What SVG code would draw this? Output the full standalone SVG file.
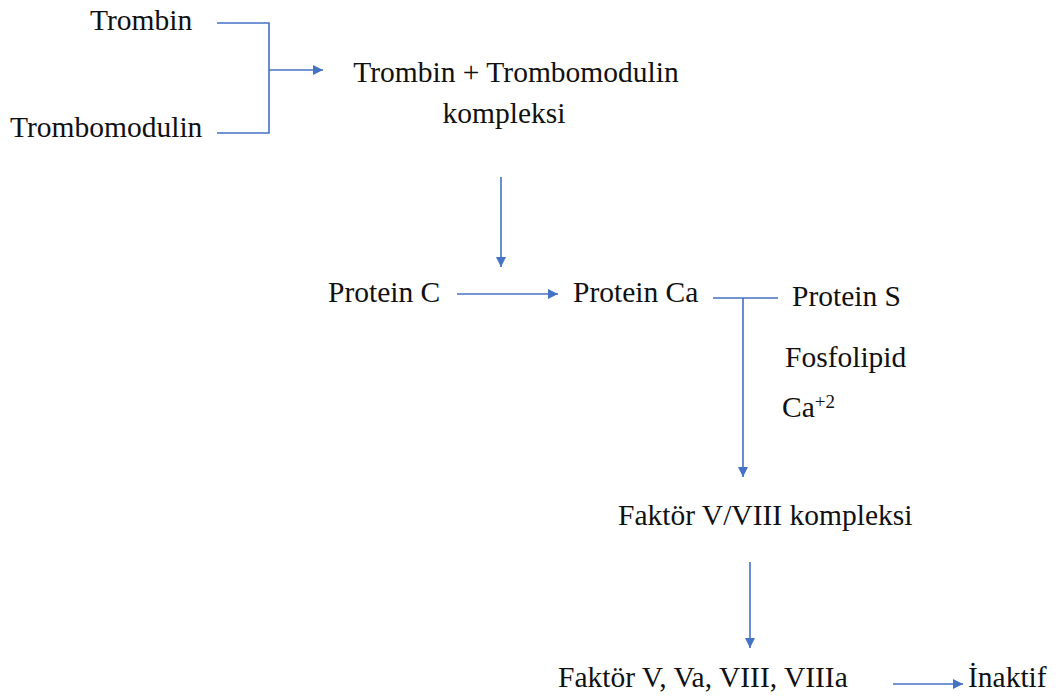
<svg xmlns="http://www.w3.org/2000/svg" width="1064" height="699" viewBox="0 0 1064 699">
<defs>
<marker id="ah" viewBox="0 0 10 10" refX="10" refY="5" markerWidth="10" markerHeight="10" markerUnits="userSpaceOnUse" orient="auto">
<path d="M0,0 L10,5 L0,10 Z" fill="#4472C4"/>
</marker>
</defs>
<rect width="1064" height="699" fill="#fff"/>
<g id="connectors" fill="none" stroke="#4472C4" stroke-width="1.6">
<path d="M217,23 H269 V133 H217"/>
<path d="M269,70 H323" marker-end="url(#ah)"/>
<path d="M501,177 V267" marker-end="url(#ah)"/>
<path d="M457,294 H558" marker-end="url(#ah)"/>
<path d="M713,298 H778 M743,298 V477" marker-end="url(#ah)"/>
<path d="M750,562 V648" marker-end="url(#ah)"/>
<path d="M893,684 H963" marker-end="url(#ah)"/>
</g>
<g id="trombin"><text style="font-family:'Liberation Serif','Times New Roman',serif;font-size:29.5px;fill:#111" x="90" y="30">Trombin</text></g>
<g id="trombomodulin"><text style="font-family:'Liberation Serif','Times New Roman',serif;font-size:29.5px;fill:#111" x="10" y="137">Trombomodulin</text></g>
<g id="kompleks1"><text style="font-family:'Liberation Serif','Times New Roman',serif;font-size:29.5px;fill:#111" x="516" y="82" text-anchor="middle">Trombin + Trombomodulin</text><text style="font-family:'Liberation Serif','Times New Roman',serif;font-size:29.5px;fill:#111" x="504" y="123" text-anchor="middle">kompleksi</text></g>
<g id="proteinC"><text style="font-family:'Liberation Serif','Times New Roman',serif;font-size:29.5px;fill:#111" x="328" y="302">Protein C</text></g>
<g id="proteinCa"><text style="font-family:'Liberation Serif','Times New Roman',serif;font-size:29.5px;fill:#111" x="573" y="302">Protein Ca</text></g>
<g id="proteinS"><text style="font-family:'Liberation Serif','Times New Roman',serif;font-size:29.5px;fill:#111" x="792" y="306">Protein S</text></g>
<g id="fosfolipid"><text style="font-family:'Liberation Serif','Times New Roman',serif;font-size:29.5px;fill:#111" x="785" y="367">Fosfolipid</text></g>
<g id="ca2"><text style="font-family:'Liberation Serif','Times New Roman',serif;font-size:29.5px;fill:#111" x="782" y="417">Ca<tspan style="font-size:19px" dy="-9">+2</tspan></text></g>
<g id="faktorKompleks"><text style="font-family:'Liberation Serif','Times New Roman',serif;font-size:29.5px;fill:#111" x="618" y="525">Faktör V/VIII kompleksi</text></g>
<g id="faktorler"><text style="font-family:'Liberation Serif','Times New Roman',serif;font-size:29.5px;fill:#111" x="558" y="687">Faktör V, Va, VIII, VIIIa</text></g>
<g id="inaktif"><text style="font-family:'Liberation Serif','Times New Roman',serif;font-size:29.5px;fill:#111" x="968" y="687">İnaktif</text></g>
</svg>
